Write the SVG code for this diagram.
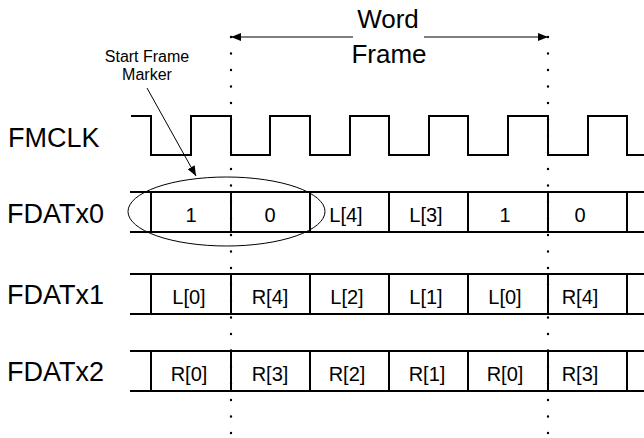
<svg xmlns="http://www.w3.org/2000/svg" width="644" height="438" viewBox="0 0 644 438">
<defs>
<style>
text{font-family:"Liberation Sans",Arial,sans-serif;fill:#000}
.lbl{font-size:27px}
.cell{font-size:20px;text-anchor:middle}
.hdr{font-size:26px;text-anchor:middle}
.note{font-size:16px;text-anchor:middle}
.wave{fill:none;stroke:#000;stroke-width:2}
.thin{fill:none;stroke:#000;stroke-width:1}
.dots{fill:none;stroke:#000;stroke-width:2.4;stroke-linecap:round;stroke-dasharray:0 16.5}
</style>
<marker id="ah" viewBox="0 0 10 8" refX="10" refY="4" markerWidth="10" markerHeight="8" markerUnits="userSpaceOnUse" orient="auto">
<path d="M0,0 L10,4 L0,8 Z" fill="#000"/>
</marker>
</defs>
<rect width="644" height="438" fill="#fff"/>

<g id="labels">
<text class="lbl" x="8" y="147">FMCLK</text>
<text class="lbl" x="7" y="223">FDATx0</text>
<text class="lbl" x="7" y="304">FDATx1</text>
<text class="lbl" x="7" y="381">FDATx2</text>
</g>

<g id="fmclk">
<path class="wave" d="M131,116 H151 V155 H191 V116 H231 V155 H270 V116 H310 V155 H350 V116 H389 V155 H429 V116 H468 V155 H508 V116 H548 V155 H588 V116 H627 V155 H644"/>
</g>

<g id="fdatx0">
<path class="wave" d="M130,192 H644 M130,232 H644 M151,192 V232 M231,192 V232 M310,192 V232 M389,192 V232 M468,192 V232 M548,192 V232 M627,192 V232"/>
<text class="cell" x="191" y="222">1</text>
<text class="cell" x="270" y="222">0</text>
<text class="cell" x="346" y="222">L[4]</text>
<text class="cell" x="426" y="222">L[3]</text>
<text class="cell" x="505" y="222">1</text>
<text class="cell" x="580" y="222">0</text>
</g>

<g id="fdatx1">
<path class="wave" d="M130,274 H644 M130,314 H644 M151,274 V314 M231,274 V314 M310,274 V314 M389,274 V314 M468,274 V314 M548,274 V314 M627,274 V314"/>
<text class="cell" x="189" y="304">L[0]</text>
<text class="cell" x="270" y="304">R[4]</text>
<text class="cell" x="347" y="304">L[2]</text>
<text class="cell" x="426" y="304">L[1]</text>
<text class="cell" x="505" y="304">L[0]</text>
<text class="cell" x="580" y="304">R[4]</text>
</g>

<g id="fdatx2">
<path class="wave" d="M130,351 H644 M130,391 H644 M151,351 V391 M231,351 V391 M310,351 V391 M389,351 V391 M468,351 V391 M548,351 V391 M627,351 V391"/>
<text class="cell" x="189" y="381">R[0]</text>
<text class="cell" x="270" y="381">R[3]</text>
<text class="cell" x="347" y="381">R[2]</text>
<text class="cell" x="427" y="381">R[1]</text>
<text class="cell" x="505" y="381">R[0]</text>
<text class="cell" x="580" y="381">R[3]</text>
</g>

<g id="start-frame-marker">
<ellipse class="thin" cx="226.5" cy="211.5" rx="98.5" ry="34.5"/>
<text class="note" x="147" y="62">Start Frame</text>
<text class="note" x="147" y="80">Marker</text>
</g>

<g id="word-frame">
<text class="hdr" x="388" y="28">Word</text>
<text class="hdr" x="389" y="63">Frame</text>
</g>

<g id="connectors">
<line class="dots" x1="231" y1="37" x2="231" y2="436"/>
<line class="dots" x1="548" y1="37" x2="548" y2="436"/>
<line class="thin" x1="353" y1="37" x2="231" y2="37" marker-end="url(#ah)"/>
<line class="thin" x1="424" y1="37" x2="548" y2="37" marker-end="url(#ah)"/>
<line class="thin" x1="147" y1="88" x2="196" y2="176" marker-end="url(#ah)"/>
</g>
</svg>
